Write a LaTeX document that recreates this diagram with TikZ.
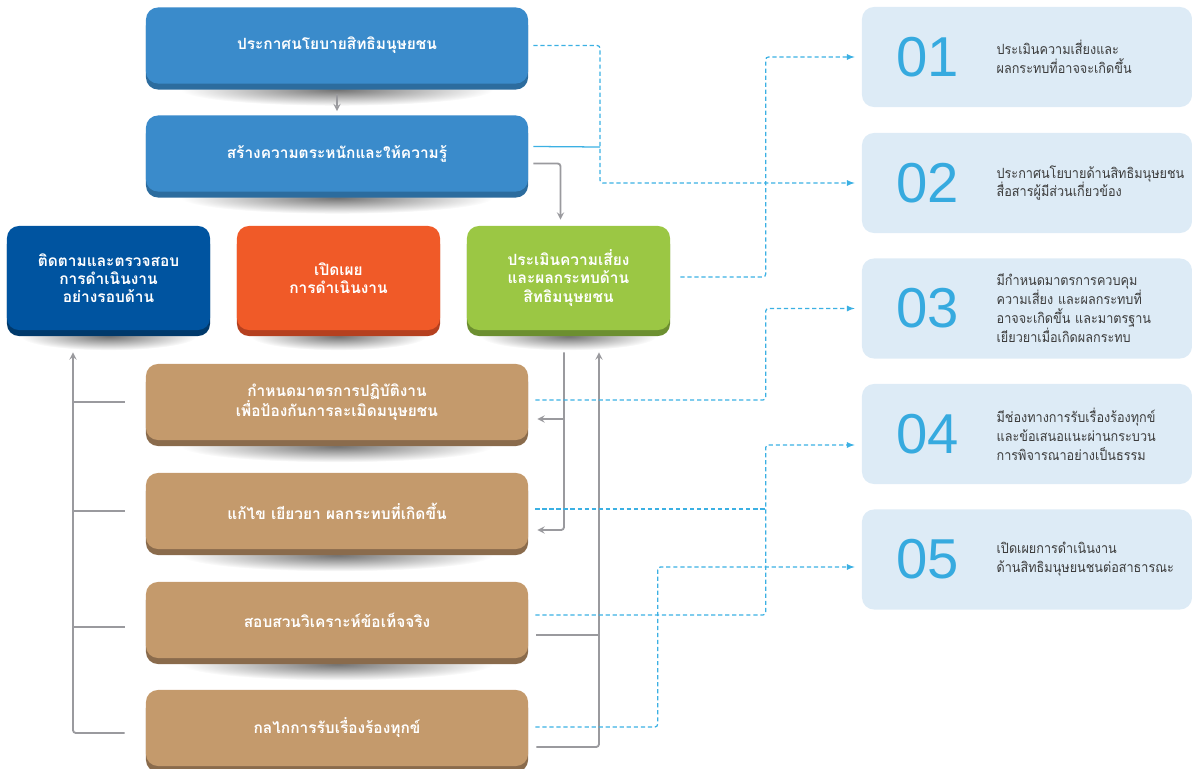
\documentclass[tikz,border=0pt]{standalone}
\usepackage{fontspec}
\setmainfont[Script=Thai]{Loma}
\newfontfamily\descfont[Script=Thai,FakeStretch=0.9]{Loma}
\newfontfamily\numfont{Liberation Sans}
\usetikzlibrary{arrows,shapes,positioning,shadows,backgrounds}

\definecolor{policyblue}{HTML}{3A8BCB}
\definecolor{policyrim}{HTML}{2C6C9E}
\definecolor{monitorblue}{HTML}{0054A0}
\definecolor{monitorrim}{HTML}{00396B}
\definecolor{discloseorange}{HTML}{F05A28}
\definecolor{discloserim}{HTML}{B5401F}
\definecolor{assessgreen}{HTML}{9BC744}
\definecolor{assessrim}{HTML}{6C8F30}
\definecolor{measurebrown}{HTML}{C49A6C}
\definecolor{measurerim}{HTML}{8A6B4C}
\definecolor{panelblue}{HTML}{DDEBF6}
\definecolor{numblue}{HTML}{36AADF}
\definecolor{linkblue}{HTML}{3BB0E3}
\definecolor{linegray}{HTML}{9A9A9E}
\definecolor{textgray}{HTML}{3C3C3C}

\begin{document}
\begin{tikzpicture}[
    x=0.025cm, y=-0.025cm,
    longbox/.style={rectangle,rounded corners=0.3cm,minimum width=9.55cm,minimum height=1.9cm,align=center,text=white,font=\bfseries\fontsize{11}{13}\selectfont},
    squarebox/.style={longbox,minimum width=5.075cm,minimum height=2.6cm},
    rim/.style={drop shadow={shadow xshift=0cm,shadow yshift=-0.15cm,fill=#1,opacity=1}},
    panel/.style={rectangle,rounded corners=0.3cm,fill=panelblue,minimum width=8.25cm,minimum height=2.5cm},
    num/.style={font=\numfont\fontsize{40}{40}\selectfont,text=numblue},
    desc/.style={anchor=west,text width=5cm,align=left,text=textgray,font=\descfont\fontsize{10}{13.5}\selectfont},
    garrow/.style={draw=linegray,line width=1.3pt,->,>=stealth,rounded corners=2pt},
    gline/.style={draw=linegray,line width=1.3pt,rounded corners=2pt},
    dlink/.style={draw=linkblue,line width=0.9pt,dash pattern=on 3pt off 2pt,->,>=latex,rounded corners=2pt},
    dline/.style={draw=linkblue,line width=0.9pt,dash pattern=on 3pt off 2pt}
]
    \useasboundingbox (0,0) rectangle (1192,769);

    % left column
    \node[longbox,fill=policyblue,rim=policyrim] (bpolicy) at (337,45.5) {ประกาศนโยบายสิทธิมนุษยชน};
    \node[longbox,fill=policyblue,rim=policyrim] (bawareness) at (337,153.5) {สร้างความตระหนักและให้ความรู้};

    \node[squarebox,fill=monitorblue,rim=monitorrim] (monitor) at (108.5,278) {ติดตามและตรวจสอบ\\การดำเนินงาน\\อย่างรอบด้าน};
    \node[squarebox,fill=discloseorange,rim=discloserim] (disclose) at (338.5,278) {เปิดเผย\\การดำเนินงาน};
    \node[squarebox,fill=assessgreen,rim=assessrim] (assess) at (568.5,278) {ประเมินความเสี่ยง\\และผลกระทบด้าน\\สิทธิมนุษยชน};

    \node[longbox,fill=measurebrown,rim=measurerim] (m1) at (337,402) {กำหนดมาตรการปฏิบัติงาน\\เพื่อป้องกันการละเมิดมนุษยชน};
    \node[longbox,fill=measurebrown,rim=measurerim] (m2) at (337,511) {แก้ไข เยียวยา ผลกระทบที่เกิดขึ้น};
    \node[longbox,fill=measurebrown,rim=measurerim] (m3) at (337,620) {สอบสวนวิเคราะห์ข้อเท็จจริง};
    \node[longbox,fill=measurebrown,rim=measurerim] (m4) at (337,728) {กลไกการรับเรื่องร้องทุกข์};

    \begin{scope}[on background layer]
        \foreach \n in {bpolicy,bawareness,m1,m2,m3,m4}
            \shade[inner color=black!55,outer color=white] ([yshift=-0.15cm]\n.south) ellipse (3.9cm and 0.4cm);
        \foreach \n in {monitor,disclose,assess}
            \shade[inner color=black!55,outer color=white] ([yshift=-0.15cm]\n.south) ellipse (2.2cm and 0.35cm);
    \end{scope}

    % right column
    \node[panel] (r01) at (1027,57) {};
    \node[panel] (r02) at (1027,183) {};
    \node[panel] (r03) at (1027,308.5) {};
    \node[panel] (r04) at (1027,434) {};
    \node[panel] (r05) at (1027,559.5) {};

    \node[num] (n01) at ([shift={(66,0)}]r01.west) {01};
    \node[num] (n02) at ([shift={(66,0)}]r02.west) {02};
    \node[num] (n03) at ([shift={(66,0)}]r03.west) {03};
    \node[num] (n04) at ([shift={(66,0)}]r04.west) {04};
    \node[num] (n05) at ([shift={(66,0)}]r05.west) {05};

    \node[desc] (t01) at ([shift={(130,0)}]r01.west) {ประเมินความเสี่ยงและ\\ผลกระทบที่อาจจะเกิดขึ้น};
    \node[desc] (t02) at ([shift={(130,0)}]r02.west) {ประกาศนโยบายด้านสิทธิมนุษยชน\\สื่อสารผู้มีส่วนเกี่ยวข้อง};
    \node[desc] (t03) at ([shift={(130,0)}]r03.west) {มีกำหนดมาตรการควบคุม\\ความเสี่ยง และผลกระทบที่\\อาจจะเกิดขึ้น และมาตรฐาน\\เยียวยาเมื่อเกิดผลกระทบ};
    \node[desc] (t04) at ([shift={(130,0)}]r04.west) {มีช่องทางการรับเรื่องร้องทุกข์\\และข้อเสนอแนะผ่านกระบวน\\การพิจารณาอย่างเป็นธรรม};
    \node[desc] (t05) at ([shift={(130,0)}]r05.west) {เปิดเผยการดำเนินงาน\\ด้านสิทธิมนุษยนชนต่อสาธารณะ};

    % junctions
    \coordinate (j1) at (600,147);
    \coordinate (j2) at (766,509);
    \coordinate (j3) at (599,635);
    \coordinate (j4) at (564,419);

    % gray flow
    \draw[garrow] ([shift={(0,10)}]bpolicy.south) -- ([shift={(0,-4)}]bawareness.north);
    \draw[garrow] ([shift={(5,10)}]bawareness.east) -| ([shift={(-8,-6)}]assess.north);
    \draw[garrow] ([shift={(-4.5,22)}]assess.south) |- ([shift={(9,19)}]m2.east);
    \draw[garrow] (j4) -- ([shift={(9,17)}]m1.east);
    \draw[garrow] ([shift={(8,19)}]m4.east) -| ([shift={(30.5,22)}]assess.south);
    \draw[gline] ([shift={(8,15)}]m3.east) -- (j3);
    \draw[garrow] ([shift={(-21,5)}]m4.west) -| ([shift={(-35.5,22)}]monitor.south);
    \draw[gline] ([shift={(-21,0)}]m1.west) -- ++(-52,0);
    \draw[gline] ([shift={(-21,0)}]m2.west) -- ++(-52,0);
    \draw[gline] ([shift={(-21,7)}]m3.west) -- ++(-52,0);

    % blue links
    \draw[draw=linkblue,line width=0.9pt] ([shift={(5,-7)}]bawareness.east) -- (j1);
    \draw[dlink] ([shift={(5,0)}]bpolicy.east) -| (j1) |- ([shift={(-7,0)}]r02.west);
    \draw[dlink] ([shift={(10,-1)}]assess.east) -| ([shift={(-96,0)}]r01.west) -- ([shift={(-7,0)}]r01.west);
    \draw[dlink] ([shift={(7,-2)}]m1.east) -| ([shift={(-96,0)}]r03.west) -- ([shift={(-7,0)}]r03.west);
    \draw[dline] ([shift={(7,-2)}]m2.east) -- (j2);
    \draw[dlink] ([shift={(7,-5)}]m3.east) -| ([shift={(-96,11)}]r04.west) -- ([shift={(-7,11)}]r04.west);
    \draw[dlink] ([shift={(7,-1)}]m4.east) -| ([shift={(-204,7.5)}]r05.west) -- ([shift={(-7,7.5)}]r05.west);
\end{tikzpicture}
\end{document}
